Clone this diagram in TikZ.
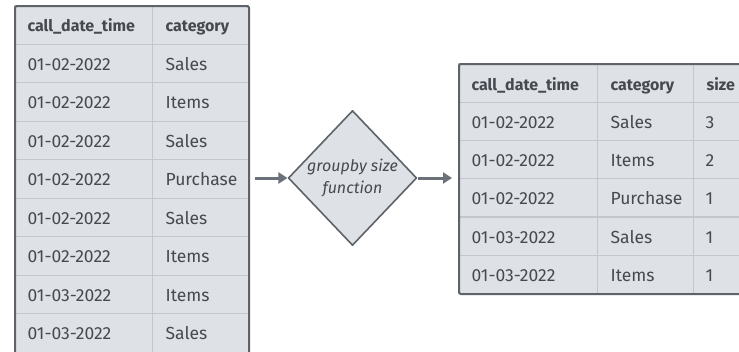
\documentclass[tikz,border=0pt]{standalone}
\usepackage{fontspec}
\setmainfont{Fira Sans}
\usetikzlibrary{arrows.meta,positioning,shapes.geometric}

\definecolor{cellfill}{HTML}{DEE1E5}
\definecolor{gridline}{HTML}{C3C7CC}
\definecolor{framecol}{HTML}{5E6369}
\definecolor{ink}{HTML}{454A50}
\definecolor{flowcol}{HTML}{6A7178}

\begin{document}
\begin{tikzpicture}[x=1pt,y=-1pt,>={Triangle[length=9pt,width=11pt]},line join=round]
  \tikzstyle{cell}=[draw=gridline,line width=1.2pt,fill=cellfill,anchor=north west,
    inner xsep=13pt,inner ysep=0pt,align=left,text=ink,
    text height=15pt,text depth=1pt,font=\fontsize{17.5}{19}\selectfont]
  \tikzstyle{head}=[cell,font=\fontsize{16}{18}\selectfont\bfseries]
  \tikzstyle{frame}=[draw=framecol,line width=2pt,rounded corners=2pt,inner sep=0pt]
  \tikzstyle{func}=[diamond,draw=framecol,line width=1.6pt,fill=cellfill,inner sep=0pt,
    minimum width=125pt,minimum height=135pt,text=ink,align=center,
    font=\fontsize{16}{22}\selectfont\itshape]
  \tikzstyle{flow}=[->,draw=flowcol,line width=3pt]

  \useasboundingbox (0,0) rectangle (739,351);
  \clip (0,0) rectangle (739,351);

  % input table
  \node[head,minimum width=138pt,minimum height=38.5pt,text width=112pt] (src-h1) at (14,5) {call\_date\_time};
  \node[head,minimum width=96pt,minimum height=38.5pt,text width=70pt] (src-h2) at (152,5) {category};
  \foreach \d/\c [count=\i] in {01-02-2022/Sales,01-02-2022/Items,01-02-2022/Sales,
      01-02-2022/Purchase,01-02-2022/Sales,01-02-2022/Items,01-03-2022/Items,01-03-2022/Sales}{
    \node[cell,minimum width=138pt,minimum height=38.5pt,text width=112pt] (src-\i a) at (14,5+38.5*\i) {\d};
    \node[cell,minimum width=96pt,minimum height=38.5pt,text width=70pt] (src-\i b) at (152,5+38.5*\i) {\c};
  }
  \node[frame,anchor=north west,minimum width=234pt,minimum height=351pt] (src) at (14,5) {};

  % groupby step
  \node[func] (fn) at (352.5,178) {groupby size\\function};

  % result table
  \node[head,minimum width=139pt,minimum height=38.8pt,text width=113pt] (res-h1) at (458,63) {call\_date\_time};
  \node[head,minimum width=96pt,minimum height=38.8pt,text width=70pt] (res-h2) at (597,63) {category};
  \node[head,minimum width=60pt,minimum height=38.8pt,text width=34pt,inner xsep=12pt] (res-h3) at (693,63) {size};
  \foreach \d/\c/\n [count=\i] in {01-02-2022/Sales/3,01-02-2022/Items/2,01-02-2022/Purchase/1,
      01-03-2022/Sales/1,01-03-2022/Items/1}{
    \node[cell,minimum width=139pt,minimum height=38.2pt,text width=113pt] (res-\i a) at (458,63+38.8+38.2*\i-38.2) {\d};
    \node[cell,minimum width=96pt,minimum height=38.2pt,text width=70pt] (res-\i b) at (597,63+38.8+38.2*\i-38.2) {\c};
    \node[cell,minimum width=60pt,minimum height=38.2pt,text width=36pt,inner xsep=12pt] (res-\i c) at (693,63+38.8+38.2*\i-38.2) {\n};
  }
  \node[frame,anchor=north west,minimum width=300pt,minimum height=230pt] (res) at (458,63) {};

  \path[flow,shorten <=5pt] (src.east |- fn.west) -- (fn.west);
  \path[flow,shorten >=6pt] (fn.east) -- (res.west |- fn.east);
\end{tikzpicture}
\end{document}
